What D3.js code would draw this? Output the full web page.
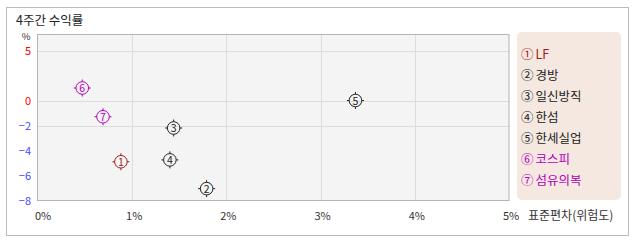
<!DOCTYPE html>
<html>
<head>
<meta charset="utf-8">
<script src="https://cdn.jsdelivr.net/npm/d3@7"></script>
<style>
body { margin: 0; background: #fff; }
text { font-family: "Noto Sans CJK KR", "DejaVu Sans", sans-serif; }
</style>
</head>
<body>
<div id="chart"></div>
<script>
// data
var names = ["LF", "경방", "일신방직", "한섬", "한세실업", "코스피", "섬유의복"];
var marks = ["①", "②", "③", "④", "⑤", "⑥", "⑦"];
var risk = [0.88, 1.79, 1.44, 1.40, 3.37, 0.47, 0.69];   // 표준편차 %
var ret4w = [-4.9, -7.05, -2.2, -4.75, 0.0, 1.25, -1.3]; // 4주간 수익률 %
var colors = ["#a01818", "#222", "#222", "#222", "#222", "#b000b8", "#b000b8"];
var xTicks = [0, 1, 2, 3, 4, 5];
var yTicks = [5, 0, -2, -4, -6, -8];
var yGrid = [5, 0, -2];

var svg = d3.select("#chart").append("svg")
    .attr("width", 638)
    .attr("height", 242);

// outer frame
svg.append("rect")
    .attr("x", 6.5).attr("y", 7.5)
    .attr("width", 622).attr("height", 228)
    .attr("fill", "#fff").attr("stroke", "#bbb");

svg.append("text")
    .attr("x", 16).attr("y", 25)
    .attr("font-size", 12.5).attr("fill", "#222")
    .text("4주간 수익률");

var x = d3.scaleLinear().domain([0, 5]).range([38, 509]);
// the y axis is not even: positive side is squeezed
var y = d3.scaleLinear().domain([-8, 0, 5, 6.6]).range([200.5, 100.5, 50.5, 34.5]);

var plot = svg.append("g");
plot.append("rect")
    .attr("x", 37.5).attr("y", 34.5)
    .attr("width", 471.5).attr("height", 166)
    .attr("fill", "#f4f4f4");

plot.selectAll("line.vgrid")
    .data(xTicks.slice(1, 5))
    .enter().append("line")
    .attr("class", "vgrid")
    .attr("x1", function(d) { return Math.round(x(d)) + 0.5; })
    .attr("x2", function(d) { return Math.round(x(d)) + 0.5; })
    .attr("y1", 35).attr("y2", 200)
    .attr("stroke", "#dcdcdc");

plot.selectAll("line.hgrid")
    .data(yGrid)
    .enter().append("line")
    .attr("class", "hgrid")
    .attr("x1", 38).attr("x2", 509)
    .attr("y1", function(d) { return Math.round(y(d)) + 0.5; })
    .attr("y2", function(d) { return Math.round(y(d)) + 0.5; })
    .attr("stroke", "#dcdcdc");

plot.append("rect")
    .attr("x", 37.5).attr("y", 34.5)
    .attr("width", 471.5).attr("height", 166)
    .attr("fill", "none").attr("stroke", "#b4b4b4");

// axis labels
svg.selectAll("text.xtick")
    .data(xTicks)
    .enter().append("text")
    .attr("class", "xtick")
    .attr("x", function(d) { return x(d) + (d == 0 ? 5 : 2); })
    .attr("y", 220)
    .attr("text-anchor", "middle")
    .attr("font-size", 11).attr("fill", "#333")
    .text(function(d) { return d + "%"; });

svg.selectAll("text.ytick")
    .data(yTicks)
    .enter().append("text")
    .attr("class", "ytick")
    .attr("x", 31)
    .attr("y", function(d) { return y(d) + 4; })
    .attr("text-anchor", "end")
    .attr("font-size", 11)
    .attr("fill", function(d) { return d >= 0 ? "#ff0000" : "#4646ff"; })
    .text(function(d) { return d < 0 ? "\u2212" + (-d) : d; });

svg.append("text")
    .attr("x", 26).attr("y", 40)
    .attr("text-anchor", "middle")
    .attr("font-size", 9.5).attr("fill", "#333")
    .text("%");

svg.append("text")
    .attr("x", 528).attr("y", 220)
    .attr("font-size", 12).attr("fill", "#333")
    .text("표준편차(위험도)");

// markers
var idx = d3.range(names.length);
var pts = plot.selectAll("g.pt")
    .data(idx)
    .enter().append("g")
    .attr("class", "pt")
    .attr("transform", function(i) {
        return "translate(" + x(risk[i]) + "," + y(ret4w[i]) + ")";
    });
pts.append("circle")
    .attr("r", 6.3)
    .attr("fill", "none")
    .attr("stroke", function(i) { return colors[i]; })
    .attr("stroke-width", 1);
pts.append("path")
    .attr("d", "M0,-8.5V-6.3M0,6.3V8.5M-8.5,0H-6.3M6.3,0H8.5")
    .attr("stroke", function(i) { return colors[i]; });
pts.append("text")
    .attr("text-anchor", "middle")
    .attr("y", 4)
    .attr("font-size", 10.5)
    .attr("fill", function(i) { return colors[i]; })
    .text(function(i) { return i + 1; });

// legend
var legend = svg.append("g");
legend.append("rect")
    .attr("x", 517).attr("y", 32)
    .attr("width", 104).attr("height", 168)
    .attr("rx", 5)
    .attr("fill", "#f5e8e1");
var items = legend.selectAll("text")
    .data(idx)
    .enter().append("text")
    .attr("x", 521)
    .attr("y", function(i) { return 58.5 + i * 21.1; })
    .attr("font-size", 12.5)
    .attr("fill", function(i) { return colors[i]; });
items.append("tspan").text(function(i) { return marks[i]; });
items.append("tspan").attr("dx", 2).text(function(i) { return names[i]; });
</script>
</body>
</html>
